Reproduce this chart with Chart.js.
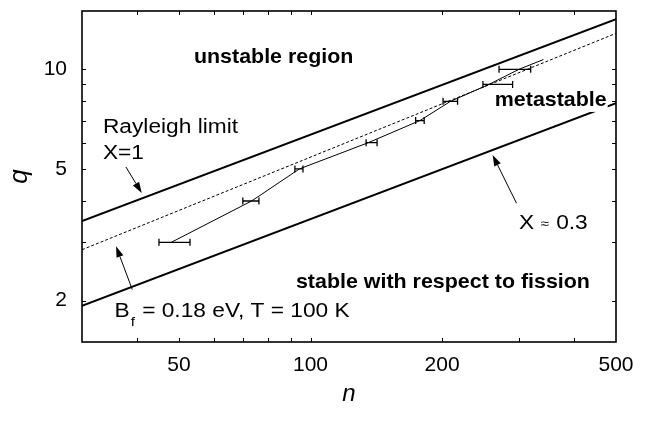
<!DOCTYPE html>
<html>
<head>
<meta charset="UTF-8">
<title>Fission stability q vs n</title>
<script src="https://cdn.jsdelivr.net/npm/chart.js@4.4.1/dist/chart.umd.min.js"></script>
<style>
  body { margin: 0; background: #fff; }
  canvas { display: block; }
</style>
</head>
<body>
<canvas id="myChart" width="650" height="421"></canvas>
<script>
// Rayleigh limit X=1 (upper solid line)
var rayleighN = [30, 500];
var rayleighQ = [3.48, 14.17];
// X ~ 0.3 (lower solid line)
var stableN = [30, 500];
var stableQ = [1.93, 7.90];
// Bf = 0.18 eV, T = 100 K (dashed)
var calcN = [30, 500];
var calcQ = [2.85, 12.84];
// measured appearance sizes, with horizontal error bars
var measQ = [3, 4, 5, 6, 7, 8, 9, 10];
var measN = [48, 73.3, 94.3, 135.5, 178, 209, 256, 300];
var measLo = [45, 70, 92.1, 134, 174, 201, 248, 270];
var measHi = [53, 76.2, 96.1, 142, 182, 217, 290, 319];
var lineEndN = 341, lineEndQ = 10.7;

var xLabels = [50, 100, 200, 500];
var yLabels = [2, 5, 10];
var xMinor = [40, 50, 60, 70, 80, 90, 100, 200, 300, 400];
var yMinor = [2, 3, 4, 5, 6, 7, 8, 9, 10];

var FONT = "'Liberation Sans', Arial, sans-serif";
var SX_REG = 1.165, SX_BOLD = 1.045;

function pts(n, q) {
    return n.map(function(v, i) { return {x: v, y: q[i]}; });
}

var measLine = pts(measN, measQ);
measLine.push({x: lineEndN, y: lineEndQ});

// annotation anchors in data coordinates (n, q)
var texts = [
    {t: 'unstable region', n: 54.1, q: 10.42, bold: true},
    {t: 'Rayleigh limit', n: 33.5, q: 6.41},
    {t: 'X=1', n: 33.5, q: 5.34},
    {t: 'metastable', n: 264, q: 7.75, bold: true, box: true},
    {t: 'stable with respect to fission', n: 92.6, q: 2.19, bold: true}
];
var arrows = [
    {n1: 37.8, q1: 5.07, n2: 41.1, q2: 4.23},
    {n1: 296, q1: 3.94, n2: 261, q2: 5.51},
    {n1: 39.1, q1: 2.16, n2: 35.9, q2: 2.92}
];

function drawText(ctx, txt, px, py, bold, size) {
    var sx = bold ? SX_BOLD : SX_REG;
    ctx.save();
    ctx.translate(px, py);
    ctx.scale(sx, 1);
    ctx.font = bold ? 'bold 20.5px ' + FONT : (size || 19.5) + 'px ' + FONT;
    ctx.textBaseline = 'alphabetic';
    ctx.textAlign = 'left';
    ctx.fillText(txt, 0, 0);
    var w = ctx.measureText(txt).width * sx;
    ctx.restore();
    return w;
}

var overlay = {
    id: 'overlay',
    afterDatasetsDraw: function(chart) {
        var ctx = chart.ctx, a = chart.chartArea;
        var x = chart.scales.x, y = chart.scales.y;
        ctx.save();
        ctx.strokeStyle = '#000';
        ctx.fillStyle = '#000';

        // error bars
        ctx.lineWidth = 1.3;
        measQ.forEach(function(q, i) {
            var py = y.getPixelForValue(q);
            var x1 = x.getPixelForValue(measLo[i]);
            var x2 = x.getPixelForValue(measHi[i]);
            ctx.beginPath();
            ctx.moveTo(x1, py); ctx.lineTo(x2, py);
            ctx.moveTo(x1, py - 3.5); ctx.lineTo(x1, py + 3.5);
            ctx.moveTo(x2, py - 3.5); ctx.lineTo(x2, py + 3.5);
            ctx.stroke();
        });

        // inward ticks on all four sides
        ctx.lineWidth = 1;
        ctx.beginPath();
        xMinor.forEach(function(v) {
            var px = Math.round(x.getPixelForValue(v)) + 0.5;
            ctx.moveTo(px, a.bottom); ctx.lineTo(px, a.bottom - 4);
            ctx.moveTo(px, a.top); ctx.lineTo(px, a.top + 4);
        });
        yMinor.forEach(function(v) {
            var py = Math.round(y.getPixelForValue(v)) + 0.5;
            ctx.moveTo(a.left, py); ctx.lineTo(a.left + 4, py);
            ctx.moveTo(a.right, py); ctx.lineTo(a.right - 4, py);
        });
        ctx.stroke();

        // frame
        ctx.lineWidth = 1.6;
        ctx.strokeRect(a.left, a.top, a.right - a.left, a.bottom - a.top);

        // arrows
        ctx.lineWidth = 1;
        arrows.forEach(function(ar) {
            var x1 = x.getPixelForValue(ar.n1), y1 = y.getPixelForValue(ar.q1);
            var x2 = x.getPixelForValue(ar.n2), y2 = y.getPixelForValue(ar.q2);
            var ang = Math.atan2(y2 - y1, x2 - x1);
            var L = 11, W = 3.6;
            var bx = x2 - L * Math.cos(ang), by = y2 - L * Math.sin(ang);
            ctx.beginPath();
            ctx.moveTo(x1, y1); ctx.lineTo(bx, by);
            ctx.stroke();
            ctx.beginPath();
            ctx.moveTo(x2, y2);
            ctx.lineTo(bx + W * Math.sin(ang), by - W * Math.cos(ang));
            ctx.lineTo(bx - W * Math.sin(ang), by + W * Math.cos(ang));
            ctx.closePath();
            ctx.fill();
        });

        // labels
        texts.forEach(function(tx) {
            var px = x.getPixelForValue(tx.n), py = y.getPixelForValue(tx.q);
            if (tx.box) {
                ctx.save();
                ctx.font = 'bold 20.5px ' + FONT;
                var w = ctx.measureText(tx.t).width * SX_BOLD;
                ctx.fillStyle = '#fff';
                ctx.fillRect(px - 1, py - 16, w + 2, 22);
                ctx.restore();
            }
            drawText(ctx, tx.t, px, py, tx.bold);
        });

        // B_f = 0.18 eV, T = 100 K
        var bx = x.getPixelForValue(35.6), by = y.getPixelForValue(1.78);
        var w = drawText(ctx, 'B', bx, by, false);
        var w2 = drawText(ctx, 'f', bx + w + 1, by + 9, false, 13);
        drawText(ctx, ' = 0.18 eV, T = 100 K', bx + w + w2 + 2, by, false);

        // X ~ 0.3
        var sx = x.getPixelForValue(300), sy = y.getPixelForValue(3.29);
        var wx = drawText(ctx, 'X ', sx, sy, false);
        var wa = drawText(ctx, '\u2248', sx + wx, sy - 1, false, 13);
        drawText(ctx, ' 0.3', sx + wx + wa + 1, sy, false);

        ctx.restore();
    }
};

var lineDs = function(data, width, dash) {
    return {
        data: data,
        borderColor: '#000',
        borderWidth: width,
        borderDash: dash || [],
        pointRadius: 0,
        tension: 0,
        fill: false
    };
};

new Chart('myChart', {
    type: 'line',
    data: {
        datasets: [
            lineDs(pts(rayleighN, rayleighQ), 1.9),
            lineDs(pts(stableN, stableQ), 1.9),
            lineDs(pts(calcN, calcQ), 1, [3, 2]),
            lineDs(measLine, 1)
        ]
    },
    options: {
        responsive: false,
        animation: false,
        events: [],
        layout: { padding: { top: 11, right: 34, left: 0, bottom: 0 } },
        plugins: { legend: { display: false }, tooltip: { enabled: false } },
        scales: {
            x: {
                type: 'logarithmic',
                min: 30, max: 500,
                afterBuildTicks: function(s) { s.ticks = xLabels.map(function(v) { return {value: v}; }); },
                afterFit: function(s) { s.height = 79; s.paddingLeft = 0; s.paddingRight = 0; },
                grid: { display: false, drawTicks: false },
                border: { display: false },
                ticks: {
                    color: '#000', padding: 11, autoSkip: false, maxRotation: 0,
                    font: { family: FONT, size: 21 },
                    callback: function(v) { return String(v); }
                },
                title: {
                    display: true, text: 'n', color: '#000',
                    font: { family: FONT, size: 24, style: 'italic' },
                    padding: { top: 0, bottom: 12 }
                }
            },
            y: {
                type: 'logarithmic',
                min: 1.5, max: 15,
                afterBuildTicks: function(s) { s.ticks = yLabels.map(function(v) { return {value: v}; }); },
                afterFit: function(s) { s.width = 82; s.paddingTop = 0; s.paddingBottom = 0; },
                grid: { display: false, drawTicks: false },
                border: { display: false },
                ticks: {
                    color: '#000', padding: 15, autoSkip: false,
                    font: { family: FONT, size: 21 },
                    callback: function(v) { return String(v); }
                },
                title: {
                    display: true, text: 'q', color: '#000',
                    font: { family: FONT, size: 26, style: 'italic' },
                    padding: { top: 4, bottom: 0 }
                }
            }
        }
    },
    plugins: [overlay]
});
</script>
</body>
</html>
